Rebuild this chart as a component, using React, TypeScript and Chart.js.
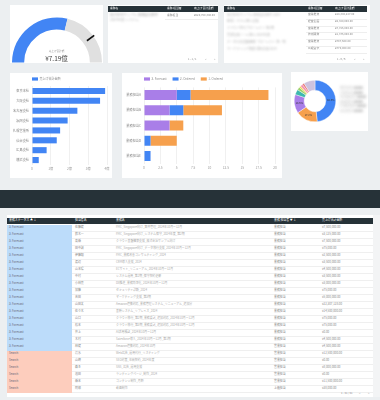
import React, { useEffect, useRef } from 'react';
import { Chart, registerables } from 'chart.js';
Chart.register(...registerables);

const FONT = "'Noto Sans CJK JP', 'Noto Sans', sans-serif";
Chart.defaults.font.family = FONT;

// ---------- gauge ----------
const gaugeLabel = '売上げ合計額';
const gaugeValue = 7.19;
const gaugeMax = 12.5;
const gaugeTarget = 10;
const gaugeText = '¥7.19億';

// ---------- horizontal bar ----------
const branchSeries = '売上げ合計金額';
const branchLabels = ['東京本社', '大阪支社', '名古屋支社', '福岡支社', '札幌営業所', '仙台支社', '広島支社', '横浜支社'];
const branchSales = [3.9, 3.63, 2.42, 1.9, 1.5, 1.32, 0.78, 0.36];
const branchTicks = ['0', '1億', '2億', '3億', '4億'];

// ---------- stacked bar ----------
const staffLabels = ['業務担当A', '業務担当B', '業務担当C', '業務担当D', '業務担当E'];
const stageNames = ['3. Forecast', '2. Ordered', '1. Ordered'];
const forecastCounts = [5.0, 3.9, 3.9, 0, 0];
const orderedCounts = [2.1, 2.1, 0, 1.0, 1.0];
const closedCounts = [11.9, 5.9, 2.1, 4.0, 0];
const countTicks = ['0', '2.5', '5', '7.5', '10', '12.5', '15', '17.5', '20'];

// ---------- donut ----------
const shareLabels = ['東京本社', '大阪支社', '名古屋支社', '福岡支社', '札幌営業所', '仙台支社', '広島支社', '横浜支社', 'その他'];
const shareValues = [48.3, 17.2, 14.6, 4.1, 2.2, 1.3, 2.0, 1.5, 8.8];
const shareColors = ['#4285f4', '#f6a04d', '#a97ee8', '#3fb8af', '#9bd16d', '#f2d24b', '#f48fb1', '#e57373', '#cdc3df'];

// ---------- top tables ----------
const tableHeaders = ['業務名', '業務 担当者', '売上げ合計金額'];
const table1Owners = ['業務担当'];
const table1Amounts = ['¥520,750,340.00'];
const table2Owners = ['営業推進', '経営企画', '営業推進', '技術開発', '営業推進', '広報宣伝'];
const table2Amounts = ['¥14,380,287.00', '¥4,380,000.00', '¥7,725,000.00', '¥1,375,000.00', '¥797,500.00', '¥770,000.00'];
const table2Blurred = ['株式会社サンプル 業務委託案件 2024', '新規システム導入支援', 'クラウド移行プロジェクト 第2期', '営業支援ツール導入 2024年度', 'データ分析基盤構築 プロジェクト 第一期', 'マーケティング施策 運用支援 2024'];

// ---------- main table ----------
const mainHeaders = ['業務ステータス ▲ ↓', '担当者名', '業務名', '業務 担当者 ▼ ↓', '売上げ合計金額'];
const mainStatus = [
  '3. Forecast', '3. Forecast', '3. Forecast', '3. Forecast', '3. Forecast', '3. Forecast',
  '3. Forecast', '3. Forecast', '3. Forecast', '3. Forecast', '3. Forecast', '3. Forecast',
  '3. Forecast', '3. Forecast', '3. Forecast', '3. Forecast', '3. Forecast', '3. Forecast',
  'Search', 'Search', 'Search', 'Search', 'Search', 'Search',
];
const mainStaff = [
  '佐藤健', '鈴木一', '高橋', '田中誠', '伊藤翔', '渡辺', '山本陽', '中村', '小林亮', '加藤', '吉田', '山田太',
  '佐々木', '山口', '松本', '井上', '木村', '林健', '清水', '山崎', '森 B', '池田', '橋本 ', '阿部',
];
const mainProjects = [
  'FMC_Singapore向け_案件管理_2024年10月〜12月',
  'FMC_Singapore向け_システム保守_2024年度_第2期',
  'クラウド基盤構築支援_株式会社サンプル向け',
  'FMC_Singapore向け_データ移行支援_2024年10月〜12月',
  'FMC_業務改善コンサルティング_2024',
  'CRM導入支援_2024',
  'ECサイト_リニューアル_2024年10月〜12月',
  'システム運用_第2期_保守契約更新',
  'DX推進_業務効率化_2024年10月〜12月',
  'セキュリティ診断_2024',
  'マーケティング支援_第3期',
  'Amazon連携対応_業務管理システム_リニューアル_追加分',
  '基幹システム_リプレイス_2024',
  'クラウド移行_第2期_業務委託_追加対応_2024年10月〜12月',
  'クラウド移行_第3期_業務委託_追加対応_2024年10月〜12月',
  'AI活用検証_2024年10月〜12月',
  'Salesforce導入_2024年10月〜12月_第1期',
  'Amazon連携対応_2024年10月',
  'Web広告_運用代行_リスティング',
  'SEO対策_年間契約_2024年度',
  'SNS_広告_運用支援',
  'ランディングページ_制作_2024',
  'コンテンツ制作_月額',
  '動画制作',
];
const mainOwners = [
  '業務担当', '業務担当', '業務担当', '業務担当', '業務担当', '業務担当', '業務担当', '業務担当',
  '業務担当', '業務担当', '業務担当', '業務担当', '業務担当', '業務担当', '業務担当', '業務担当',
  '業務担当', '営業担当', '営業担当', '営業担当', '営業担当', '営業担当', '営業担当', '上級担当',
];
const mainAmounts = [
  '¥7,500,000.00', '¥3,125,000.00', '¥7,500,000.00', '¥75,000.00', '¥2,500,000.00', '¥3,500,000.00',
  '¥4,500,000.00', '¥3,500,000.00', '¥3,000,000.00', '¥75,000.00', '¥5,000,000.00', '¥22,307,128.00',
  '¥14,500,000.00', '¥75,000.00', '¥75,000.00', '¥0.00', '¥4,500,000.00', '¥4,500,000.00',
  '¥12,500,000.00', '¥0.00', '¥8,000,000.00', '¥0.00', '¥11,500,000.00', '¥38,000.00',
];
const mainPaging = '1 - 41 / 41';

// ---------- plugins ----------
const topLegend = {
  id: 'topLegend',
  afterDraw(chart: any, _args: any, opts: any) {
    if (!opts || !opts.show) return;
    const { ctx, chartArea } = chart;
    let x = chartArea.left + (opts.dx || 0);
    const y = opts.y;
    ctx.save();
    ctx.font = `${opts.size}px ${FONT}`;
    ctx.textBaseline = 'middle';
    chart.data.datasets.forEach((ds: any) => {
      ctx.fillStyle = ds.backgroundColor;
      ctx.fillRect(x, y - 1.6, 6, 3.2);
      x += 7.5;
      ctx.fillStyle = '#888';
      ctx.fillText(ds.label, x, y);
      x += ctx.measureText(ds.label).width + 6;
    });
    ctx.restore();
  },
};

const gaugeMarker = {
  id: 'gaugeMarker',
  afterDatasetsDraw(chart: any, _args: any, opts: any) {
    if (!opts || opts.target == null) return;
    const arc = chart.getDatasetMeta(0).data[0];
    if (!arc) return;
    const { x, y, outerRadius } = arc;
    const a = -Math.PI + Math.PI * (opts.target / opts.max);
    const r1 = outerRadius - 8;
    const r2 = outerRadius + 1;
    const ctx = chart.ctx;
    ctx.save();
    ctx.strokeStyle = '#111';
    ctx.lineWidth = 1.6;
    ctx.beginPath();
    ctx.moveTo(x + Math.cos(a) * r1, y + Math.sin(a) * r1);
    ctx.lineTo(x + Math.cos(a) * r2, y + Math.sin(a) * r2);
    ctx.stroke();
    ctx.restore();
  },
};

const sliceLabels = {
  id: 'sliceLabels',
  afterDatasetsDraw(chart: any, _args: any, opts: any) {
    if (!opts || !opts.show) return;
    const ctx = chart.ctx;
    const ds = chart.data.datasets[0];
    const total = ds.data.reduce((s: number, v: number) => s + v, 0);
    ctx.save();
    ctx.font = `2.6px ${FONT}`;
    ctx.fillStyle = '#333';
    ctx.textAlign = 'center';
    ctx.textBaseline = 'middle';
    chart.getDatasetMeta(0).data.forEach((arc: any, i: number) => {
      const pct = (ds.data[i] / total) * 100;
      if (pct < 10) return;
      const p = arc.tooltipPosition();
      ctx.fillText(pct.toFixed(1) + '%', p.x, p.y);
    });
    ctx.restore();
  },
};

Chart.register(topLegend, gaugeMarker, sliceLabels);

function ChartBox({ left, top, width, height, config }: any) {
  const ref = useRef<HTMLCanvasElement>(null);
  useEffect(() => {
    if (!ref.current) return;
    const chart = new Chart(ref.current, config());
    return () => chart.destroy();
  }, []);
  return (
    <canvas
      ref={ref}
      width={width}
      height={height}
      style={{ position: 'absolute', left, top, width, height }}
    />
  );
}

const T = ({ x, y, s = 3.2, c = '#555', children, blur, w, align, bold }: any) => (
  <div
    style={{
      position: 'absolute', left: x, top: y, fontSize: s, lineHeight: `${s * 1.3}px`, color: c,
      whiteSpace: 'nowrap', filter: blur ? `blur(${blur}px)` : undefined, width: w, textAlign: align,
      fontWeight: bold ? 700 : 400,
    }}
  >
    {children}
  </div>
);

const Card = ({ x, y, w, h, children }: any) => (
  <div style={{ position: 'absolute', left: x, top: y, width: w, height: h, background: '#fff' }}>{children}</div>
);

const gaugeConfig = () => ({
  type: 'doughnut',
  data: {
    labels: ['value', 'rest'],
    datasets: [{ data: [gaugeValue, gaugeMax - gaugeValue], backgroundColor: ['#4285f4', '#e0e0e0'], borderWidth: 0 }],
  },
  options: {
    responsive: false, animation: false, rotation: -90, circumference: 180, cutout: '73%',
    layout: { padding: 0 },
    plugins: { legend: { display: false }, tooltip: { enabled: false }, gaugeMarker: { target: gaugeTarget, max: gaugeMax } },
  },
});

const axisFont = { size: 3.2, family: FONT };

const branchConfig = () => ({
  type: 'bar',
  data: {
    labels: branchLabels,
    datasets: [{ label: branchSeries, data: branchSales, backgroundColor: '#4285f4', barPercentage: 0.65, categoryPercentage: 0.95 }],
  },
  options: {
    indexAxis: 'y', responsive: false, animation: false,
    layout: { padding: { top: 13, right: 5, bottom: 5, left: 0 } },
    scales: {
      x: {
        min: 0, max: 4, ticks: { stepSize: 1, font: axisFont, color: '#999', padding: 2, callback: (_v: any, i: number) => branchTicks[i] },
        grid: { color: '#f0f0f0', drawTicks: false }, border: { display: false },
        afterFit: (s: any) => { s.height = 8; },
      },
      y: {
        ticks: { font: axisFont, color: '#888', padding: 3 }, grid: { display: false, drawTicks: false }, border: { display: false },
        afterFit: (s: any) => { s.width = 22; },
      },
    },
    plugins: { legend: { display: false }, tooltip: { enabled: false }, topLegend: { show: true, y: 6, size: 3 } },
  },
});

const stackConfig = () => ({
  type: 'bar',
  data: {
    labels: staffLabels,
    datasets: [
      { label: stageNames[0], data: forecastCounts, backgroundColor: '#a97ee8' },
      { label: stageNames[1], data: orderedCounts, backgroundColor: '#4285f4' },
      { label: stageNames[2], data: closedCounts, backgroundColor: '#f6a04d' },
    ].map((d) => ({ ...d, barPercentage: 0.66, categoryPercentage: 1 })),
  },
  options: {
    indexAxis: 'y', responsive: false, animation: false,
    layout: { padding: { top: 14.4, right: 7, bottom: 6.4, left: 0 } },
    scales: {
      x: {
        stacked: true, min: 0, max: 20,
        ticks: { stepSize: 2.5, font: axisFont, color: '#999', padding: 2, callback: (_v: any, i: number) => countTicks[i] },
        grid: { color: '#f0f0f0', drawTicks: false }, border: { display: false },
        afterFit: (s: any) => { s.height = 8; },
      },
      y: {
        stacked: true, ticks: { font: axisFont, color: '#888', padding: 3 }, grid: { display: false, drawTicks: false }, border: { display: false },
        afterFit: (s: any) => { s.width = 22; },
      },
    },
    plugins: { legend: { display: false }, tooltip: { enabled: false }, topLegend: { show: true, y: 6, size: 3 } },
  },
});

const donutConfig = () => ({
  type: 'doughnut',
  data: {
    labels: shareLabels,
    datasets: [{ data: shareValues, backgroundColor: shareColors, borderColor: '#fff', borderWidth: 0.4 }],
  },
  options: {
    responsive: false, animation: false, cutout: '52%', layout: { padding: 0 },
    plugins: { legend: { display: false }, tooltip: { enabled: false }, sliceLabels: { show: true } },
  },
});

export default function App() {
  const dark = '#263238';
  const rowH = 7;
  const mainTop = 224.5;
  return (
    <div
      style={{
        position: 'fixed', left: 0, top: 0, width: 380, height: 400, background: '#eceff1', overflow: 'hidden',
        fontFamily: FONT,
      }}
    >
      {/* gauge */}
      <Card x={10} y={5} w={93} h={58} />
      <ChartBox left={12} top={17} width={90} height={46} config={gaugeConfig} />
      <T x={10} y={50} w={93} align="center" s={2.6} c="#999">{gaugeLabel}</T>
      <T x={10} y={54} w={93} align="center" s={6.5} c="#444">{gaugeText}</T>

      {/* table 1 */}
      <Card x={108} y={5} w={110} h={58} />
      <div style={{ position: 'absolute', left: 108, top: 6, width: 110, height: 6, background: dark }} />
      <T x={110} y={7} s={2.8} c="#fff">{tableHeaders[0]}</T>
      <T x={167} y={7} s={2.8} c="#fff">{tableHeaders[1]}</T>
      <T x={194} y={7} s={2.8} c="#fff">{tableHeaders[2]}</T>
      <T x={110} y={13} s={3.4} c="#aaa" blur={1.3}>株式会社サンプル 業務委託案件</T>
      <T x={110} y={17.5} s={3.4} c="#bbb" blur={1.3}>2024年度 システム</T>
      <T x={167} y={13.5} s={2.8} c="#888">{table1Owners[0]}</T>
      <T x={194} y={13.5} s={2.8} c="#888">{table1Amounts[0]}</T>
      <div style={{ position: 'absolute', left: 165, top: 19, width: 53, height: 0.5, background: '#eee' }} />
      <T x={188} y={58} s={2.6} c="#888">1 - 1 / 1</T>
      <T x={205} y={58} s={2.6} c="#aaa">{'<'}</T>
      <T x={214} y={58} s={2.6} c="#aaa">{'>'}</T>

      {/* table 2 */}
      <Card x={224} y={5} w={146} h={58} />
      <div style={{ position: 'absolute', left: 224, top: 6, width: 143, height: 6, background: dark }} />
      <T x={227} y={7} s={2.8} c="#fff">{tableHeaders[0]}</T>
      <T x={308} y={7} s={2.8} c="#fff">{tableHeaders[1]}</T>
      <T x={335} y={7} s={2.8} c="#fff">{tableHeaders[2]}</T>
      {table2Owners.map((o, i) => (
        <React.Fragment key={i}>
          <T x={227} y={12.6 + i * 6.8} s={3.2} c="#bbb" blur={1.2}>{table2Blurred[i]}</T>
          <T x={308} y={13 + i * 6.8} s={2.8} c="#888">{o}</T>
          <T x={335} y={13 + i * 6.8} s={2.8} c="#888">{table2Amounts[i]}</T>
          <div style={{ position: 'absolute', left: 306, top: 18.8 + i * 6.8, width: 61, height: 0.5, background: '#eee' }} />
        </React.Fragment>
      ))}
      <T x={337} y={58} s={2.6} c="#888">1 - 6 / 6</T>
      <T x={354} y={58} s={2.6} c="#aaa">{'<'}</T>
      <T x={363} y={58} s={2.6} c="#aaa">{'>'}</T>

      {/* bar chart */}
      <Card x={10} y={73} w={102} h={105} />
      <ChartBox left={10} top={73} width={102} height={105} config={branchConfig} />

      {/* stacked chart */}
      <Card x={122} y={73} w={160} h={105} />
      <ChartBox left={122} top={73} width={160} height={105} config={stackConfig} />

      {/* donut */}
      <Card x={291} y={72} w={77} h={59} />
      <ChartBox left={294} top={80} width={42} height={42} config={donutConfig} />
      {shareLabels.slice(0, 6).map((l, i) => (
        <T key={i} x={340} y={86 + i * 4.6} s={3.2} c="#bbb" blur={1.4}>{l} ■■■</T>
      ))}

      {/* dark band */}
      <div style={{ position: 'absolute', left: 0, top: 190, width: 380, height: 18, background: dark }} />

      {/* main table */}
      <Card x={7} y={215} w={366} h={182} />
      <div style={{ position: 'absolute', left: 373, top: 215, width: 7, height: 182, background: '#f3f4f5' }} />
      <div style={{ position: 'absolute', left: 7, top: 218, width: 366, height: 6.3, background: dark }} />
      {[9, 75, 116, 274, 322].map((x, i) => (
        <T key={i} x={x} y={219.2} s={2.9} c="#fff">{mainHeaders[i]}</T>
      ))}
      {mainStatus.map((st, i) => {
        const y = mainTop + i * rowH;
        const bg = st === 'Search' ? '#fdcdbd' : '#bcdcfa';
        return (
          <React.Fragment key={i}>
            <div style={{ position: 'absolute', left: 7, top: y, width: 65, height: rowH, background: bg }} />
            <div style={{ position: 'absolute', left: 72, top: y + rowH - 0.5, width: 301, height: 0.5, background: '#efefef' }} />
            <T x={9} y={y + 1.4} s={2.9} c="#667">{st}</T>
            <T x={75} y={y + 1.4} s={2.9} c="#888">{mainStaff[i]}</T>
            <T x={116} y={y + 1.4} s={2.9} c="#aaa">{mainProjects[i]}</T>
            <T x={274} y={y + 1.4} s={2.9} c="#888">{mainOwners[i]}</T>
            <T x={322} y={y + 1.4} s={2.9} c="#888">{mainAmounts[i]}</T>
          </React.Fragment>
        );
      })}
      <T x={341} y={391.5} s={2.6} c="#888">{mainPaging}</T>
      <T x={359} y={391.5} s={2.6} c="#aaa">{'<'}</T>
      <T x={368} y={391.5} s={2.6} c="#aaa">{'>'}</T>
    </div>
  );
}
